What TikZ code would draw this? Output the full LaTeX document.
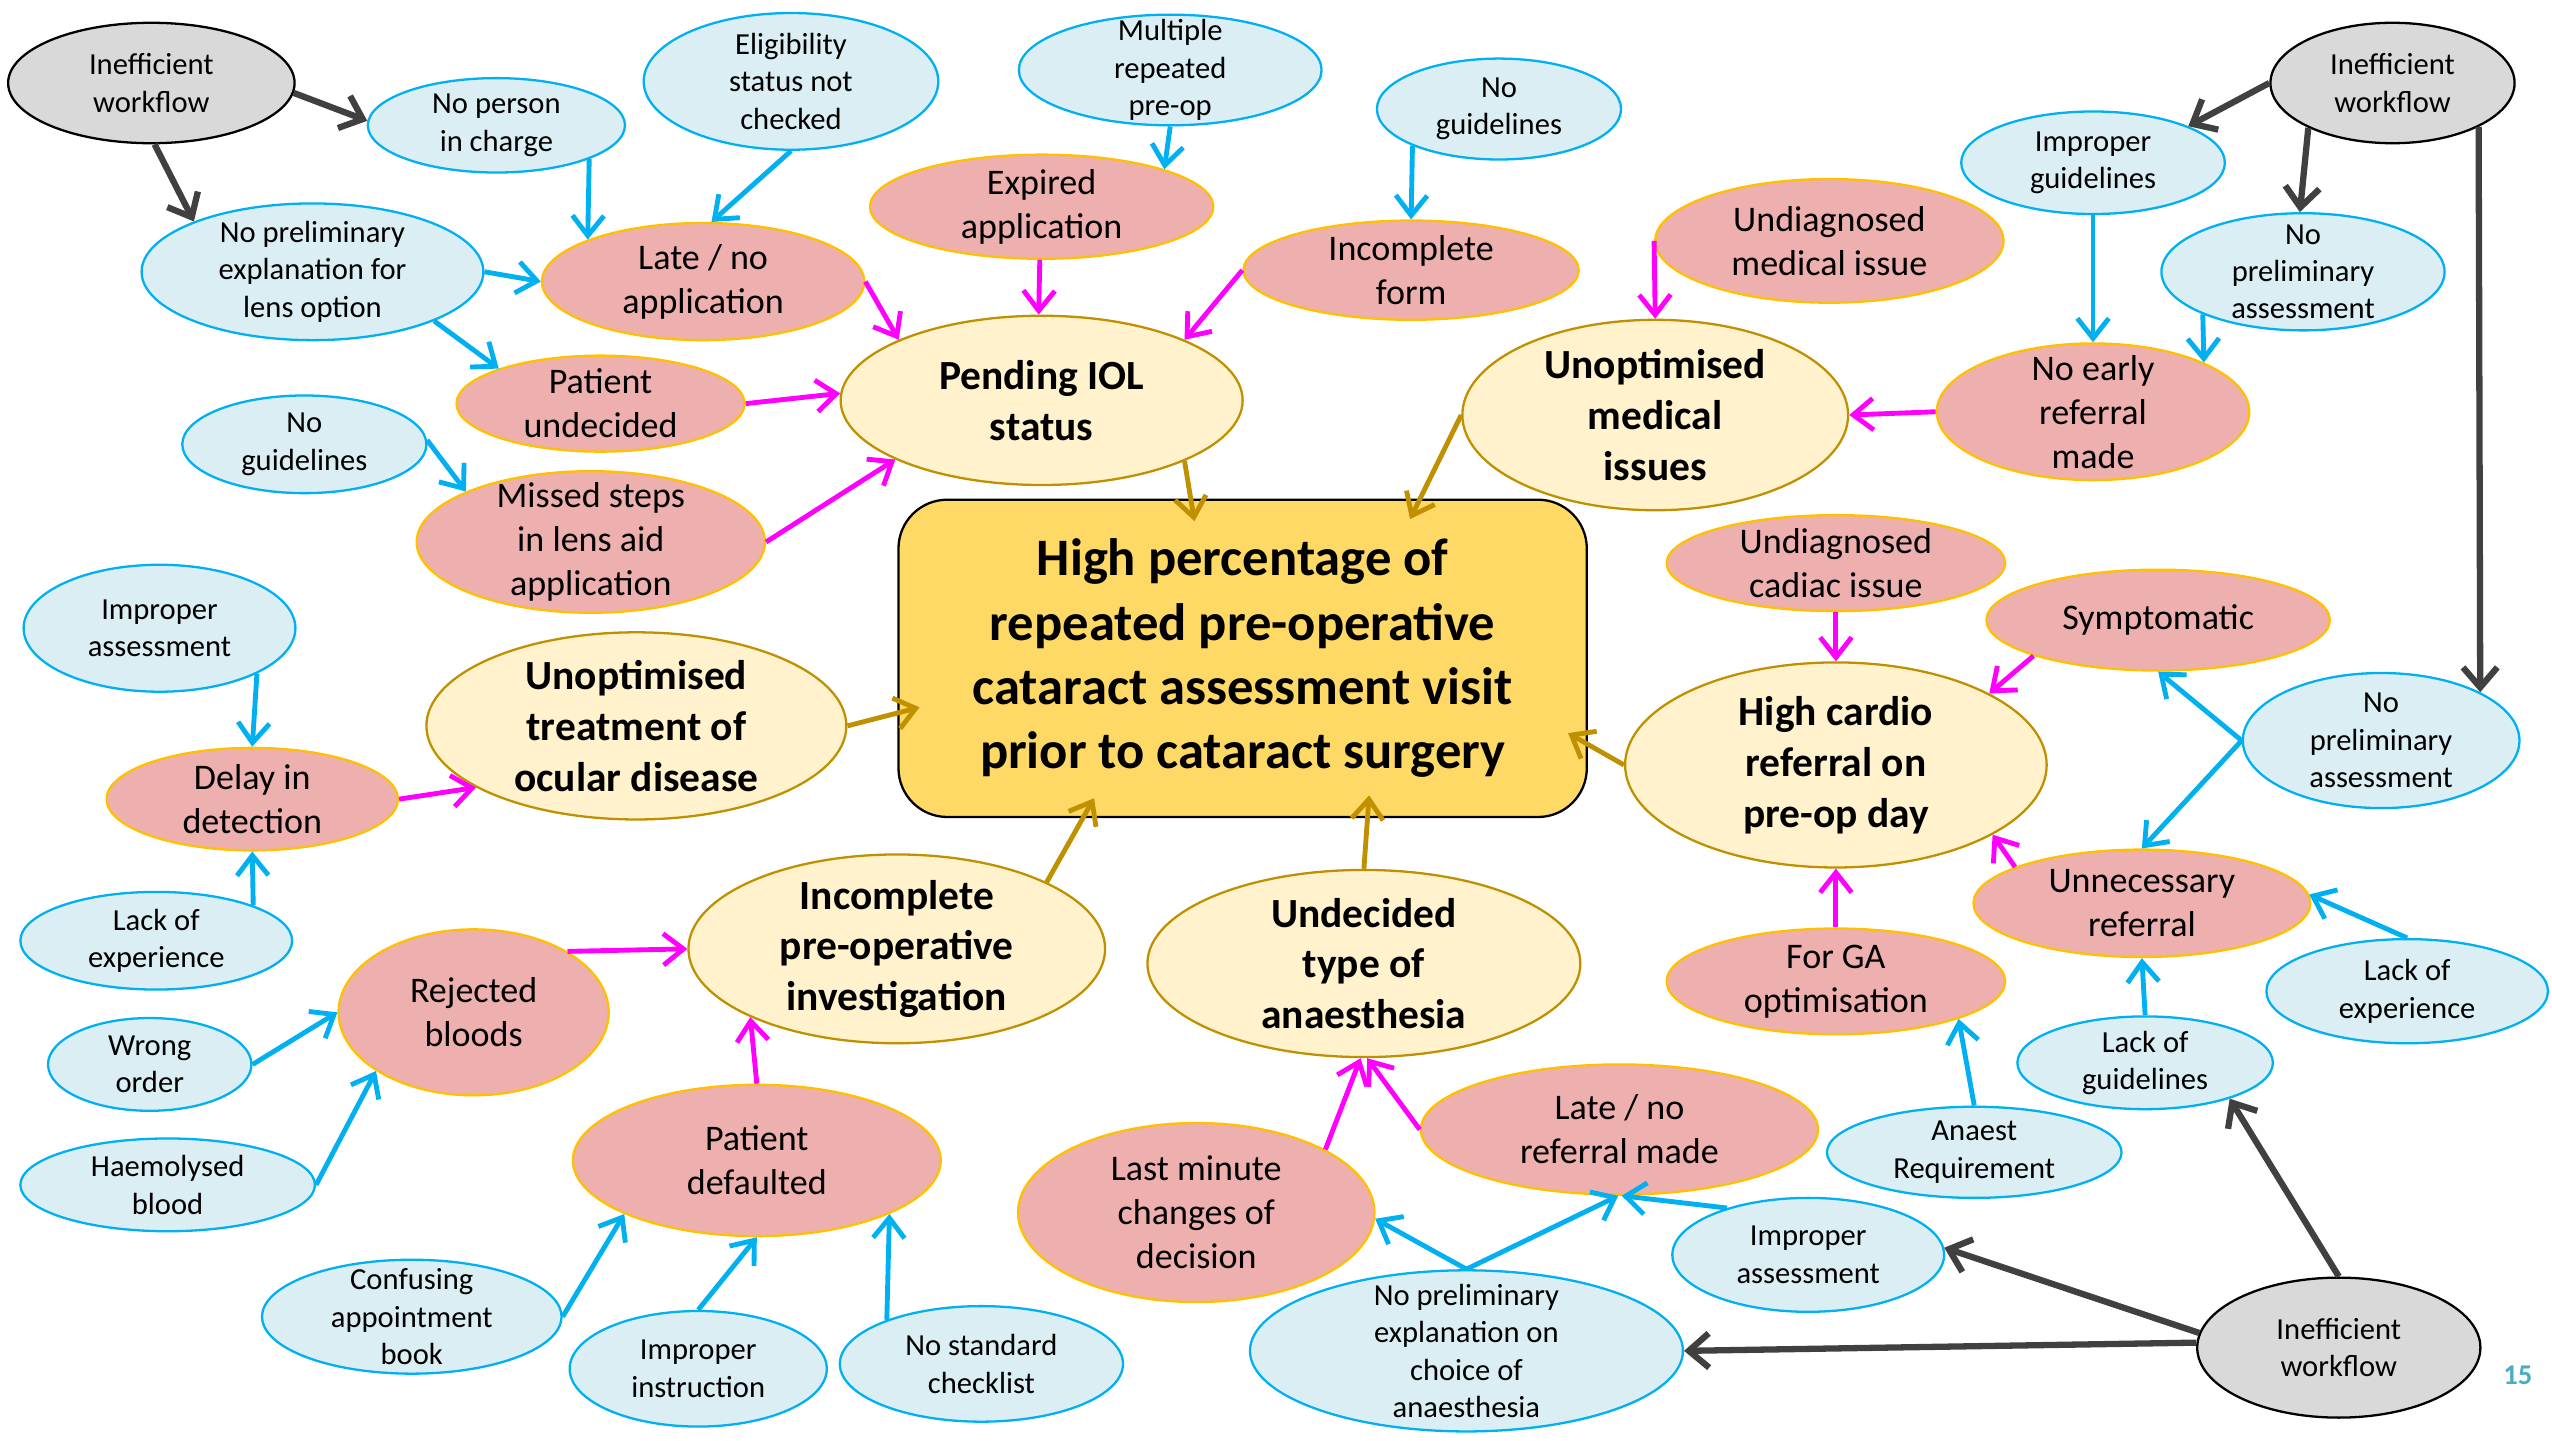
\documentclass[tikz,border=0pt]{standalone}
\usepackage{fontspec}
\setmainfont{Carlito}
\usetikzlibrary{shapes.geometric,arrows.meta}
\definecolor{cellgrey}{HTML}{D9D9D9}
\definecolor{cellblue}{HTML}{DAEEF3}
\definecolor{lineblue}{HTML}{00B0F0}
\definecolor{cellpink}{HTML}{EEAFAF}
\definecolor{linepink}{HTML}{FFC000}
\definecolor{cellyel}{HTML}{FFF2CC}
\definecolor{linegold}{HTML}{BF9000}
\definecolor{mainfill}{HTML}{FFD966}
\definecolor{arrowgrey}{HTML}{404040}
\definecolor{magenta}{HTML}{FF00FF}
\definecolor{pagenum}{HTML}{4BACC6}

\begin{document}
\begin{tikzpicture}[x=0.02cm,y=-0.02cm,
sz/.style 2 args={minimum width=#1*0.02cm,minimum height=#2*0.02cm},
cell/.style={ellipse,draw,line width=0.8pt,align=center,inner xsep=0pt,inner ysep=-8pt},
wfcell/.style={cell,fill=cellgrey,draw=black,font=\fontsize{10.7}{13.1}\selectfont},
bluecell/.style={cell,fill=cellblue,draw=lineblue,font=\fontsize{10.7}{13.1}\selectfont},
pinkcell/.style={cell,fill=cellpink,draw=linepink,font=\fontsize{12.6}{15.4}\selectfont},
yelcell/.style={cell,fill=cellyel,draw=linegold,font=\bfseries\fontsize{14.5}{17.8}\selectfont},
mainbox/.style={rectangle,rounded corners=0.6cm,draw=black,line width=0.8pt,fill=mainfill,align=center,
  font=\bfseries\fontsize{18.4}{22.5}\selectfont},
wfarrow/.style={-{Straight Barb[length=7pt,width=12pt]},draw=arrowgrey,line width=2.2pt},
bluearrow/.style={-{Straight Barb[length=7pt,width=11pt]},draw=lineblue,line width=1.7pt},
pinkarrow/.style={-{Straight Barb[length=7pt,width=11pt]},draw=magenta,line width=1.7pt},
goldarrow/.style={-{Straight Barb[length=7pt,width=11pt]},draw=linegold,line width=1.7pt,shorten >=-8pt}]
\useasboundingbox (0,0) rectangle (1568,885);

% main problem
\node[mainbox,minimum width=8.46cm,minimum height=3.9cm] (problem) at (763.5,404.5)
  {High percentage of\\repeated pre-operative\\cataract assessment visit\\prior to cataract surgery};

% workflow causes
\node[wfcell,sz={176}{74}] (wfa) at (93,51) {Inefficient\\workflow};
\node[wfcell,sz={150}{74}] (wfb) at (1470,51) {Inefficient\\workflow};
\node[wfcell,sz={174}{86}] (wfc) at (1437,828) {Inefficient\\workflow};

% root causes
\node[bluecell,sz={158}{58}] (nocharge) at (305,77) {No person\\in charge};
\node[bluecell,sz={181}{84}] (elig) at (486,50) {Eligibility\\status not\\checked};
\node[bluecell,sz={186}{68}] (multi) at (719,43) {Multiple\\repeated\\pre-op};
\node[bluecell,sz={150}{62}] (noguidea) at (921,67) {No\\guidelines};
\node[bluecell,sz={210}{84}] (noexpl) at (192,167) {No preliminary\\explanation for\\lens option};
\node[bluecell,sz={150}{60}] (noguideb) at (187,273) {No\\guidelines};
\node[bluecell,sz={167}{78}] (impassa) at (98,386) {Improper\\assessment};
\node[bluecell,sz={167}{60}] (lackexpa) at (96,578) {Lack of\\experience};
\node[bluecell,sz={125}{57}] (wrong) at (92,654) {Wrong\\order};
\node[bluecell,sz={181}{57}] (haem) at (103,728) {Haemolysed\\blood};
\node[bluecell,sz={184}{70}] (confus) at (253,809) {Confusing\\appointment\\book};
\node[bluecell,sz={158}{71}] (impinst) at (429,841) {Improper\\instruction};
\node[bluecell,sz={174}{71}] (nocheck) at (603,838) {No standard\\checklist};
\node[bluecell,sz={266}{99}] (noexplb) at (901,830) {No preliminary\\explanation on\\choice of\\anaesthesia};
\node[bluecell,sz={167}{70}] (impassb) at (1111,771) {Improper\\assessment};
\node[bluecell,sz={181}{56}] (anaest) at (1213,708) {Anaest\\Requirement};
\node[bluecell,sz={157}{57}] (lackguide) at (1318,653) {Lack of\\guidelines};
\node[bluecell,sz={173}{64}] (lackexpb) at (1479,609) {Lack of\\experience};
\node[bluecell,sz={170}{83}] (noprelb) at (1463,455) {No\\preliminary\\assessment};
\node[bluecell,sz={162}{63}] (impguide) at (1286,100) {Improper\\guidelines};
\node[bluecell,sz={174}{72}] (noprela) at (1415,167) {No\\preliminary\\assessment};

% intermediate causes
\node[pinkcell,sz={198}{72}] (lateapp) at (432,173) {Late / no\\application};
\node[pinkcell,sz={211}{64}] (expired) at (640,127) {Expired\\application};
\node[pinkcell,sz={206}{61}] (incform) at (867,166) {Incomplete\\form};
\node[pinkcell,sz={214}{76}] (undmed) at (1124,148) {Undiagnosed\\medical issue};
\node[pinkcell,sz={177}{59}] (undecided) at (369,248) {Patient\\undecided};
\node[pinkcell,sz={214}{87}] (missed) at (363,333) {Missed steps\\in lens aid\\application};
\node[pinkcell,sz={192}{84}] (noearly) at (1286,253) {No early\\referral\\made};
\node[pinkcell,sz={179}{63}] (delay) at (155,491) {Delay in\\detection};
\node[pinkcell,sz={166}{102}] (rejected) at (291,622) {Rejected\\bloods};
\node[pinkcell,sz={226}{93}] (defaulted) at (465,713) {Patient\\defaulted};
\node[pinkcell,sz={219}{110}] (lastmin) at (735,745) {Last minute\\changes of\\decision};
\node[pinkcell,sz={244}{80}] (lateref) at (995,694) {Late / no\\referral made};
\node[pinkcell,sz={208}{65}] (forga) at (1128,603) {For GA\\optimisation};
\node[pinkcell,sz={208}{59}] (undcard) at (1128,346) {Undiagnosed\\cadiac issue};
\node[pinkcell,sz={211}{62}] (sympt) at (1326,381) {Symptomatic};
\node[pinkcell,sz={207}{66}] (unnec) at (1316,555) {Unnecessary\\referral};

% main causes
\node[yelcell,sz={247}{104}] (pending) at (640,246) {Pending IOL\\status};
\node[yelcell,sz={237}{117}] (unmed) at (1017,255) {Unoptimised\\medical\\issues};
\node[yelcell,sz={258}{115}] (unocular) at (391,446) {Unoptimised\\treatment of\\ocular disease};
\node[yelcell,sz={256}{116}] (incinv) at (551,583) {Incomplete\\pre-operative\\investigation};
\node[yelcell,sz={266}{115}] (undtype) at (838,592) {Undecided\\type of\\anaesthesia};
\node[yelcell,sz={259}{126}] (cardio) at (1128,470) {High cardio\\referral on\\pre-op day};

\node[font=\bfseries\fontsize{10}{12}\selectfont,text=pagenum] (pageno) at (1547,845) {15};

% workflow arrows
\draw[wfarrow] (wfa.-4) -- (nocharge.178);
\draw[wfarrow] (wfa.-87) -- (noexpl.157);
\draw[wfarrow] (wfb.180) -- (impguide.21);
\draw[wfarrow] (wfb.208) -- (noprela.93);
\draw[wfarrow] (wfb.-27) -- (noprelb.26);
\draw[wfarrow] (wfc.90) -- (lackguide.-23);
\draw[wfarrow] (wfc.174) -- (impassb.3);
\draw[wfarrow] (wfc.178) -- (noexplb.0);

% root cause arrows
\draw[bluearrow] (nocharge.-20) -- (lateapp.160);
\draw[bluearrow] (elig.south) -- (lateapp.82);
\draw[bluearrow] (multi.south) -- (expired.17);
\draw[bluearrow] (noguidea.203) -- (incform.north);
\draw[bluearrow] (noexpl.east) -- (lateapp.west);
\draw[bluearrow] (noexpl.-22) -- (undecided.161);
\draw[bluearrow] (noguideb.2) -- (missed.158);
\draw[bluearrow] (impassa.-25) -- (delay.north);
\draw[bluearrow] (lackexpa.20) -- (delay.south);
\draw[bluearrow] (wrong.east) -- (rejected.west);
\draw[bluearrow] (haem.east) -- (rejected.-149);
\draw[bluearrow] (confus.east) -- (defaulted.-158);
\draw[bluearrow] (impinst.north) -- (defaulted.south);
\draw[bluearrow] (nocheck.155) -- (defaulted.-22);
\draw[bluearrow] (noexplb.north) -- (lastmin.-2);
\draw[bluearrow] (noexplb.north) -- (lateref.-91);
\draw[bluearrow] (impassb.150) -- (lateref.-88);
\draw[bluearrow] (anaest.north) -- (forga.-17);
\draw[bluearrow] (lackguide.north) -- (unnec.south);
\draw[bluearrow] (lackexpb.north) -- (unnec.3);
\draw[bluearrow] (noprelb.west) -- (sympt.south);
\draw[bluearrow] (noprelb.west) -- (unnec.north);
\draw[bluearrow] (impguide.south) -- (noearly.north);
\draw[bluearrow] (noprela.203) -- (noearly.24);

% intermediate arrows
\draw[pinkarrow] (lateapp.east) -- (pending.157);
\draw[pinkarrow] (expired.-92) -- (pending.92);
\draw[pinkarrow] (incform.west) -- (pending.23);
\draw[pinkarrow] (undmed.west) -- (unmed.north);
\draw[pinkarrow] (undecided.east) -- (pending.178);
\draw[pinkarrow] (missed.east) -- (pending.202);
\draw[pinkarrow] (noearly.west) -- (unmed.east);
\draw[pinkarrow] (delay.east) -- (unocular.201);
\draw[pinkarrow] (rejected.33) -- (incinv.west);
\draw[pinkarrow] (defaulted.north) -- (incinv.205);
\draw[pinkarrow] (lastmin.26) -- (undtype.-92);
\draw[pinkarrow] (lateref.west) -- (undtype.-88);
\draw[pinkarrow] (forga.north) -- (cardio.south);
\draw[pinkarrow] (undcard.south) -- (cardio.north);
\draw[pinkarrow] (sympt.196) -- (cardio.25);
\draw[pinkarrow] (unnec.164) -- (cardio.-24);

% main cause arrows
\draw[goldarrow] (pending.-23) -- (problem.108);
\draw[goldarrow] (unmed.west) -- (problem.42);
\draw[goldarrow] (unocular.east) -- (problem.189);
\draw[goldarrow] (incinv.24) -- (problem.-135);
\draw[goldarrow] (undtype.north) -- (problem.-52.6);
\draw[goldarrow] (cardio.west) -- (problem.-14);
\end{tikzpicture}
\end{document}
